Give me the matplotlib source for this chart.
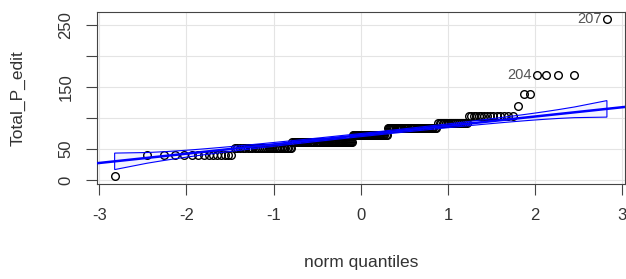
import numpy as np
import matplotlib
matplotlib.use("Agg")
from matplotlib import pyplot as plt
from matplotlib.patches import Polygon
from statistics import NormalDist

plt.rcParams['font.family'] = ['Liberation Sans', 'DejaVu Sans']
plt.rcParams['axes.unicode_minus'] = False

# sorted sample values, as (value, how many)
plateau_values = [6, 40, 52, 61, 73, 84, 92, 103, 120, 138, 169, 170, 259]
plateau_counts = [1, 14, 30, 52, 33, 40, 17, 15, 1, 2, 2, 2, 1]

# reference line
line_intercept = 72.4
line_slope = 15.0

labels = {"207": 259, "204": 169}

y = np.repeat(plateau_values, plateau_counts).astype(float)
n = len(y)

# theoretical quantiles (R ppoints, a = 0.5)
nd = NormalDist()
p = (np.arange(1, n + 1) - 0.5) / n
z = np.array([nd.inv_cdf(v) for v in p])

# pointwise 95% envelope like car::qqPlot
dens = np.array([nd.pdf(v) for v in z])
se = (line_slope / dens) * np.sqrt(p * (1 - p) / n)
fit = line_intercept + line_slope * z
upper = fit + 1.96 * se
lower = fit - 1.96 * se

fig = plt.figure(figsize=(6.26, 2.79), dpi=100)
ax = fig.add_axes([97 / 626, 95 / 279, 528 / 626, 172 / 279])

ax.set_xlim(-3.025, 3.03)
ax.set_ylim(-6.5, 271)
ax.set_xticks(range(-3, 4))
ax.set_yticks([0, 50, 100, 150, 200, 250])
ax.set_yticklabels(['0', '50', '', '150', '', '250'])
ax.grid(True, color='#e4e4e4', lw=0.8)
ax.set_axisbelow(True)

ax.plot(z, y, 'o', mfc='none', mec='black', ms=5.5, mew=1.0, zorder=2)
xs = np.array(ax.get_xlim())
ax.plot(xs, line_intercept + line_slope * xs, color='blue', lw=1.8, zorder=3)
env = np.column_stack([np.r_[z, z[::-1]], np.r_[upper, lower[::-1]]])
ax.add_patch(Polygon(env, closed=True, facecolor=(0, 0, 1, 0.05),
                     edgecolor='blue', lw=0.8, zorder=3))

# point labels, to the left of the point
for lab, val in labels.items():
    idx = np.where(y == val)[0][0]
    ax.annotate(lab, (z[idx], y[idx]), xytext=(-4, 0), textcoords='offset points',
                ha='right', va='center', fontsize=10.5, color='#555555')

for s in ax.spines.values():
    s.set_color('#444444')
    s.set_linewidth(0.8)
ax.tick_params(direction='out', length=8, width=0.8, pad=9,
               labelsize=12, labelcolor='#333333', color='#444444')
for t in ax.get_yticklabels():
    t.set_rotation(90)
    t.set_va('center')

fig.text(361 / 626, 1 - 263 / 279, 'norm quantiles', ha='center', va='center',
         fontsize=12.5, color='#333333')
fig.text(18 / 626, 1 - 98 / 279, 'Total_P_edit', ha='center', va='center',
         rotation=90, fontsize=12.5, color='#333333')

fig.savefig('out.png', dpi=100)
